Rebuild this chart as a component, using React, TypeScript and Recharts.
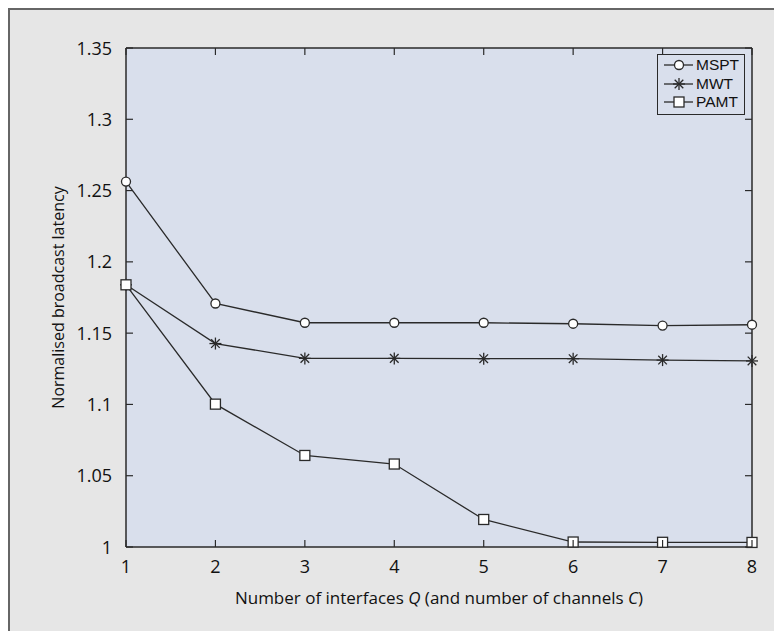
import React from 'react';
import {
  LineChart,
  Line,
  XAxis,
  YAxis,
  CartesianGrid,
  Legend
} from 'recharts';

const interfaces = [1, 2, 3, 4, 5, 6, 7, 8];
const msptValues = [1.2563, 1.1708, 1.1573, 1.1573, 1.1573, 1.1566, 1.1553, 1.1559];
const mwtValues = [1.1839, 1.1427, 1.1323, 1.1323, 1.1321, 1.1321, 1.1311, 1.1305];
const pamtValues = [1.1839, 1.1002, 1.0642, 1.0582, 1.0193, 1.0035, 1.0033, 1.0032];
const xTicks = [1, 2, 3, 4, 5, 6, 7, 8];
const yTicks = [1, 1.05, 1.1, 1.15, 1.2, 1.25, 1.3, 1.35];

const data = interfaces.map((q, i) => ({
  q,
  MSPT: msptValues[i],
  MWT: mwtValues[i],
  PAMT: pamtValues[i]
}));

const INK = '#2a2a2a';
const PLOT_BG = '#d9dfec';
const PAGE_BG = '#e6e6e6';
const FONT = '"Open Sans", sans-serif';
const LEGEND_FONT = '"Liberation Sans", Arial, sans-serif';

const circleDot = (props: any) => {
  const { cx, cy, key } = props;
  return <circle key={key} cx={cx} cy={cy} r={4.5} fill="#fff" stroke={INK} strokeWidth={1.3} />;
};

const starDot = (props: any) => {
  const { cx, cy, key } = props;
  const s = 6;
  const d = 4.3;
  return (
    <g key={key} stroke={INK} strokeWidth={1.3}>
      <line x1={cx - s} y1={cy} x2={cx + s} y2={cy} />
      <line x1={cx} y1={cy - s} x2={cx} y2={cy + s} />
      <line x1={cx - d} y1={cy - d} x2={cx + d} y2={cy + d} />
      <line x1={cx - d} y1={cy + d} x2={cx + d} y2={cy - d} />
    </g>
  );
};

const squareDot = (props: any) => {
  const { cx, cy, key } = props;
  return <rect key={key} x={cx - 5} y={cy - 5} width={10} height={10} fill="#fff" stroke={INK} strokeWidth={1.3} />;
};

const BottomTick = (props: any) => {
  const { x, y, payload } = props;
  return (
    <g>
      <line x1={x} y1={y} x2={x} y2={y - 7} stroke={INK} strokeWidth={1.2} />
      <text x={x} y={y + 26} textAnchor="middle" fill="#111" fontSize={18} fontFamily={FONT}>
        {payload.value}
      </text>
    </g>
  );
};

const TopTick = (props: any) => {
  const { x, y } = props;
  return <line x1={x} y1={y} x2={x} y2={y + 7} stroke={INK} strokeWidth={1.2} />;
};

const LeftTick = (props: any) => {
  const { x, y, payload } = props;
  return (
    <g>
      <line x1={x} y1={y} x2={x + 7} y2={y} stroke={INK} strokeWidth={1.2} />
      <text x={x - 14} y={y + 6.5} textAnchor="end" fill="#111" fontSize={18} fontFamily={FONT}>
        {String(Math.round(payload.value * 100) / 100)}
      </text>
    </g>
  );
};

const RightTick = (props: any) => {
  const { x, y } = props;
  return <line x1={x} y1={y} x2={x - 7} y2={y} stroke={INK} strokeWidth={1.2} />;
};

const legendItems = [
  { name: 'MSPT', marker: 'circle' },
  { name: 'MWT', marker: 'star' },
  { name: 'PAMT', marker: 'square' }
];

const LegendIcon = ({ marker }: { marker: string }) => {
  const cx = 21;
  const cy = 9;
  return (
    <svg width={36} height={18} style={{ display: 'block', flex: 'none' }}>
      <line x1={6} y1={cy} x2={35} y2={cy} stroke={INK} strokeWidth={1.3} />
      {marker === 'circle' && circleDot({ cx, cy })}
      {marker === 'star' && starDot({ cx, cy })}
      {marker === 'square' && squareDot({ cx, cy })}
    </svg>
  );
};

const LegendBox = () => (
  <div
    style={{
      border: `1.5px solid ${INK}`,
      background: PLOT_BG,
      width: 86,
      padding: '1px 0 2px 0',
      fontFamily: LEGEND_FONT,
      fontSize: 15.5,
      color: '#111'
    }}
  >
    {legendItems.map((it) => (
      <div key={it.name} style={{ display: 'flex', alignItems: 'center', height: 18.5 }}>
        <LegendIcon marker={it.marker} />
        <span
          style={{
            display: 'block',
            marginLeft: 2,
            height: 18,
            lineHeight: '18px',
            whiteSpace: 'nowrap'
          }}
        >
          {it.name}
        </span>
      </div>
    ))}
  </div>
);

const XTitle = (props: any) => {
  const { viewBox } = props;
  const cx = viewBox.x + viewBox.width / 2;
  return (
    <text x={cx} y={viewBox.y + 57} textAnchor="middle" fill="#111" fontSize={17} fontFamily={FONT}>
      <tspan>Number of interfaces </tspan>
      <tspan fontStyle="italic">Q</tspan>
      <tspan> (and number of channels </tspan>
      <tspan fontStyle="italic">C</tspan>
      <tspan>)</tspan>
    </text>
  );
};

const YTitle = (props: any) => {
  const { viewBox } = props;
  const cy = viewBox.y + viewBox.height / 2;
  const x = 54;
  return (
    <text
      x={x}
      y={cy}
      transform={`rotate(-90 ${x} ${cy})`}
      textAnchor="middle"
      fill="#111"
      fontSize={16}
      fontFamily={FONT}
    >
      Normalised broadcast latency
    </text>
  );
};

export default function App() {
  return (
    <div
      style={{
        width: 774,
        height: 623,
        boxSizing: 'border-box',
        borderTop: '2px solid #666',
        borderLeft: '2px solid #666',
        background: PAGE_BG
      }}
    >
      <LineChart
        width={772}
        height={621}
        data={data}
        margin={{ top: 37, right: 29, bottom: 22, left: 0 }}
      >
        <CartesianGrid horizontal={false} vertical={false} fill={PLOT_BG} />
        <XAxis
          dataKey="q"
          type="number"
          domain={[1, 8]}
          ticks={xTicks}
          height={62}
          axisLine={{ stroke: INK, strokeWidth: 1.5 }}
          tickLine={false}
          tickSize={0}
          tickMargin={0}
          tick={<BottomTick />}
          label={<XTitle />}
        />
        <XAxis
          xAxisId="top"
          orientation="top"
          dataKey="q"
          type="number"
          domain={[1, 8]}
          ticks={xTicks}
          height={1}
          axisLine={{ stroke: INK, strokeWidth: 1.5 }}
          tickLine={false}
          tickSize={0}
          tickMargin={0}
          tick={<TopTick />}
        />
        <YAxis
          type="number"
          domain={[1, 1.35]}
          ticks={yTicks}
          width={116}
          axisLine={{ stroke: INK, strokeWidth: 1.5 }}
          tickLine={false}
          tickSize={0}
          tickMargin={0}
          tick={<LeftTick />}
          label={<YTitle />}
        />
        <YAxis
          yAxisId="right"
          orientation="right"
          type="number"
          domain={[1, 1.35]}
          ticks={yTicks}
          width={1}
          axisLine={{ stroke: INK, strokeWidth: 1.5 }}
          tickLine={false}
          tickSize={0}
          tickMargin={0}
          tick={<RightTick />}
        />
        <Legend
          layout="vertical"
          align="center"
          verticalAlign="middle"
          content={<LegendBox />}
          wrapperStyle={{ position: 'absolute', left: 647, top: 44, width: 90, height: 62 }}
        />
        <Line
          type="linear"
          dataKey="MSPT"
          xAxisId="top"
          yAxisId="right"
          stroke={INK}
          strokeWidth={1.3}
          dot={circleDot}
          isAnimationActive={false}
        />
        <Line
          type="linear"
          dataKey="MWT"
          stroke={INK}
          strokeWidth={1.3}
          dot={starDot}
          isAnimationActive={false}
        />
        <Line
          type="linear"
          dataKey="PAMT"
          stroke={INK}
          strokeWidth={1.3}
          dot={squareDot}
          isAnimationActive={false}
        />
      </LineChart>
    </div>
  );
}
